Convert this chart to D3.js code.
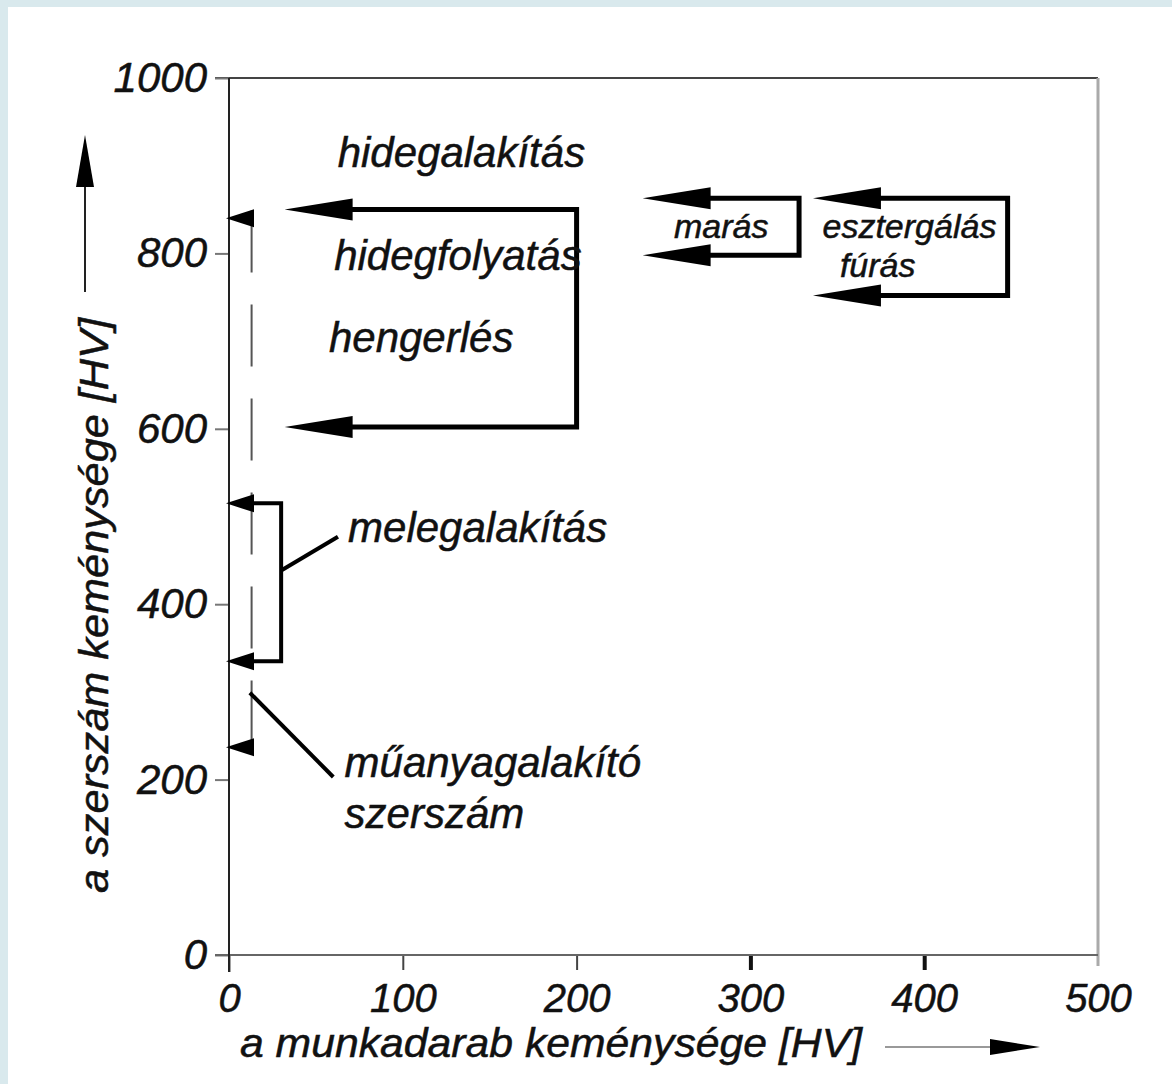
<!DOCTYPE html>
<html><head><meta charset="utf-8">
<script src="https://cdn.jsdelivr.net/npm/d3@7"></script>
<style>
html,body{margin:0;padding:0;background:#d9e9ed;}
svg{display:block;}
text{font-family:"Liberation Sans",Arial,sans-serif;font-style:italic;fill:#111;stroke:#111;stroke-width:0.5px;}
</style></head>
<body>
<svg id="chart" width="1172" height="1084"></svg>
<script>
// ---- data ----
const xTicks = [0, 100, 200, 300, 400, 500];
const yTicks = [0, 200, 400, 600, 800, 1000];
const xTitle = "a munkadarab keménysége [HV]";
const yTitle = "a szerszám keménysége [HV]";

// bracket arrows (tool hardness ranges): top value, bottom value, right x, arrow tip x
const bracketNames  = ["hidegalakítás", "marás", "esztergálás", "melegalakítás"];
const bracketTop    = [850, 863, 863, 515];
const bracketBottom = [602, 798, 752, 335];
const bracketRight  = [200, 328, 448, 30];
const bracketTip    = [32, 238, 336, 0];
const bracketHead   = ["big", "big", "big", "small"];

// dashed vertical line with small arrows
const dashX = 13;
const dashRange = [226, 849];
const smallArrowY = [840, 237];

// leader lines [x1, y1, x2, y2] in data units
const leaders = [[30.5, 439, 62.7, 477], [12, 299, 60, 203]];

// labels
const labelText = ["hidegalakítás", "hidegfolyatás", "hengerlés", "marás", "esztergálás", "fúrás", "melegalakítás", "műanyagalakító", "szerszám"];
const labelX    = [62.5, 60.5, 57.5, 256, 341.5, 351.5, 68.5, 66.5, 66.5];
const labelY    = [898, 781, 688, 818, 818, 773, 471, 203, 145];
const labelSize = ["l", "l", "l", "s", "s", "s", "l", "l", "l"];

// ---- drawing ----
const svg = d3.select("#chart");
svg.append("rect").attr("x", 8).attr("y", 7).attr("width", 1164).attr("height", 1077).attr("fill", "#fff");

const x = d3.scaleLinear().domain([0, 500]).range([229, 1098]);
const y = d3.scaleLinear().domain([0, 1000]).range([955, 78]);

// frame top & right
svg.append("line").attr("x1", x(0) - 14).attr("x2", x(500)).attr("y1", y(1000)).attr("y2", y(1000))
  .attr("stroke", "#444").attr("stroke-width", 2);
svg.append("line").attr("x1", x(500)).attr("x2", x(500)).attr("y1", y(1000)).attr("y2", y(0) + 11)
  .attr("stroke", "#aaa").attr("stroke-width", 3);

// y axis
const yAxis = d3.axisLeft(y).tickValues(yTicks).tickSize(14).tickSizeOuter(0).tickPadding(8).tickFormat(d3.format("d"));
const gy = svg.append("g").attr("transform", `translate(${x(0)},0)`).call(yAxis);
gy.select(".domain").remove();
gy.selectAll(".tick line").attr("stroke", "#777").attr("stroke-width", 2);
gy.selectAll(".tick text").style("font-size", "42px").style("font-family", null).attr("fill", "#111");

// x axis
const xAxis = d3.axisBottom(x).tickValues(xTicks).tickSize(15).tickSizeOuter(0).tickPadding(14).tickFormat(d3.format("d"));
const gx = svg.append("g").attr("transform", `translate(0,${y(0)})`).call(xAxis);
gx.select(".domain").remove();
gx.selectAll(".tick line").attr("stroke", d => d >= 300 && d < 500 ? "#111" : "#444").attr("stroke-width", d => d >= 300 && d < 500 ? 4 : 2)
  .attr("y2", d => d === 0 ? 17 : (d === 500 ? 0 : 15));
gx.selectAll(".tick text").style("font-size", "40px").style("font-family", null).attr("fill", "#111");

// axis lines
svg.append("line").attr("x1", x(0) - 14).attr("x2", x(500)).attr("y1", y(0)).attr("y2", y(0))
  .attr("stroke", "#666").attr("stroke-width", 2);
svg.append("line").attr("x1", x(0)).attr("x2", x(0)).attr("y1", y(1000)).attr("y2", y(0) + 17)
  .attr("stroke", "#222").attr("stroke-width", 2);

// dashed line
svg.append("line").attr("x1", x(dashX)).attr("x2", x(dashX)).attr("y1", y(dashRange[1])).attr("y2", y(dashRange[0]))
  .attr("stroke", "#555").attr("stroke-width", 2).attr("stroke-dasharray", "62,32");

function head(tipX, tipY, len, half, dir) {
  if (dir === "left") return `M${tipX},${tipY} L${tipX + len},${tipY - half} L${tipX + len},${tipY + half} Z`;
  if (dir === "right") return `M${tipX},${tipY} L${tipX - len},${tipY - half} L${tipX - len},${tipY + half} Z`;
  return `M${tipX},${tipY} L${tipX - half},${tipY + len} L${tipX + half},${tipY + len} Z`;
}

// small arrows on dashed line
smallArrowY.forEach(v => {
  svg.append("path").attr("d", head(x(0) - 3, y(v), 28, 9, "left")).attr("fill", "#000");
});

// brackets
bracketNames.forEach((n, i) => {
  const big = bracketHead[i] === "big";
  const hl = big ? 68 : 28, hh = big ? 11 : 9;
  const tip = x(bracketTip[i]) - (big ? 0 : 3);
  const pts = [[tip + hl - 2, y(bracketTop[i])], [x(bracketRight[i]), y(bracketTop[i])],
               [x(bracketRight[i]), y(bracketBottom[i])], [tip + hl - 2, y(bracketBottom[i])]];
  svg.append("path").attr("d", d3.line()(pts)).attr("fill", "none").attr("stroke", "#000")
    .attr("stroke-width", big ? 5 : 4).attr("stroke-linejoin", "miter");
  svg.append("path").attr("d", head(tip, y(bracketTop[i]), hl, hh, "left")).attr("fill", "#000");
  svg.append("path").attr("d", head(tip, y(bracketBottom[i]), hl, hh, "left")).attr("fill", "#000");
});

// leaders
leaders.forEach(l => {
  svg.append("line").attr("x1", x(l[0])).attr("y1", y(l[1])).attr("x2", x(l[2])).attr("y2", y(l[3]))
    .attr("stroke", "#000").attr("stroke-width", 4);
});

// labels
labelText.forEach((t, i) => {
  svg.append("text").attr("x", x(labelX[i])).attr("y", y(labelY[i]))
    .style("font-size", labelSize[i] === "l" ? "42px" : "34px").text(t);
});

// axis titles
svg.append("text").attr("x", 240).attr("y", 1057).style("font-size", "40px")
  .attr("textLength", 622).attr("lengthAdjust", "spacingAndGlyphs").text(xTitle);
svg.append("line").attr("x1", 885).attr("x2", 995).attr("y1", 1047).attr("y2", 1047).attr("stroke", "#999").attr("stroke-width", 2);
svg.append("path").attr("d", head(1040, 1047, 50, 8, "right")).attr("fill", "#000");

svg.append("text").attr("transform", "translate(108,893) rotate(-90)").style("font-size", "41px")
  .attr("textLength", 575).attr("lengthAdjust", "spacingAndGlyphs").text(yTitle);
svg.append("line").attr("x1", 85).attr("x2", 85).attr("y1", 292).attr("y2", 180).attr("stroke", "#222").attr("stroke-width", 2);
svg.append("path").attr("d", head(85, 135, 52, 9, "up")).attr("fill", "#000");
</script>
</body></html>
